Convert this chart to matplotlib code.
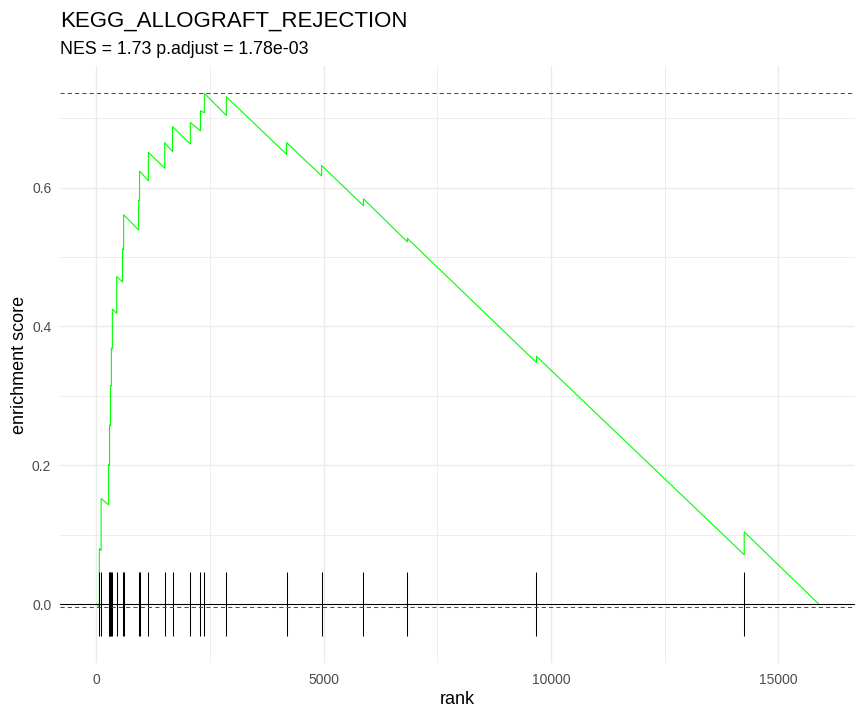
import matplotlib
matplotlib.use("Agg")
import matplotlib.pyplot as plt
from matplotlib.ticker import MultipleLocator

plt.rcParams['font.family'] = ['Liberation Sans', 'DejaVu Sans']

# gene set hits (rank positions) and running enrichment score around each hit
hit_ranks = [66, 105, 270, 290, 310, 330, 352, 448, 575, 600, 930, 950, 1144,
             1504, 1675, 2067, 2290, 2375, 2859, 4185, 4955, 5875, 6840, 9680, 14250]
es_before = [-0.004, 0.077, 0.143, 0.200, 0.257, 0.314, 0.368, 0.419, 0.464, 0.510,
             0.539, 0.581, 0.610, 0.628, 0.652, 0.663, 0.682, 0.708, 0.704, 0.648,
             0.617, 0.574, 0.522, 0.348, 0.071]
es_after = [0.080, 0.152, 0.201, 0.258, 0.315, 0.369, 0.425, 0.472, 0.512, 0.561,
            0.582, 0.624, 0.651, 0.665, 0.688, 0.694, 0.711, 0.736, 0.731, 0.665,
            0.632, 0.584, 0.527, 0.357, 0.104]
n_genes = 15888
es_start = 0.0
es_end = 0.0

title = "KEGG_ALLOGRAFT_REJECTION"
subtitle = "NES = 1.73 p.adjust = 1.78e-03"

# running score path: vertical jump at each hit, straight decline in between
xs = [1]
ys = [es_start]
for r, b, a in zip(hit_ranks, es_before, es_after):
    xs += [r, r]
    ys += [b, a]
xs.append(n_genes)
ys.append(es_end)

fig = plt.figure(figsize=(8.65, 7.18), dpi=100)
ax = fig.add_axes([0.0697, 0.0766, 0.9185, 0.8311])

ax.set_facecolor('white')
for s in ax.spines.values():
    s.set_visible(False)

ax.xaxis.set_major_locator(MultipleLocator(5000))
ax.xaxis.set_minor_locator(MultipleLocator(2500))
ax.yaxis.set_major_locator(MultipleLocator(0.2))
ax.yaxis.set_minor_locator(MultipleLocator(0.1))
ax.grid(which='major', color='#EBEBEB', lw=1.0)
ax.grid(which='minor', color='#EBEBEB', lw=0.6)
ax.set_axisbelow(True)

ax.plot(xs, ys, color='#00FF00', lw=0.8, zorder=3)
ax.vlines(hit_ranks, -0.046, 0.046, color='black', lw=0.75, zorder=4)
ax.axhline(0, color='black', lw=0.75, zorder=4)
ax.axhline(max(es_after), color='red', lw=0.75, dashes=(4, 3), zorder=5)
ax.axhline(min(es_before), color='red', lw=0.75, dashes=(4, 3), zorder=5)

pad_x = 0.05 * n_genes
ax.set_xlim(1 - pad_x, n_genes + pad_x)
ax.set_ylim(-0.085, 0.775)

ax.yaxis.set_major_formatter(plt.FuncFormatter(lambda v, p: f"{v:.1f}"))
ax.tick_params(which='both', length=0, labelsize=10, labelcolor='#4D4D4D')
ax.tick_params(axis='x', pad=7)
ax.tick_params(axis='y', pad=6.5)

ax.set_xlabel('rank', fontsize=13, labelpad=3)
ax.set_ylabel('enrichment score', fontsize=13, labelpad=3)

fig.text(60 / 865, 1 - 27 / 718, title, fontsize=16, ha='left', va='baseline')
fig.text(60 / 865, 1 - 53.5 / 718, subtitle, fontsize=12.8, ha='left', va='baseline')

fig.savefig('out.png', dpi=100, facecolor='white')
